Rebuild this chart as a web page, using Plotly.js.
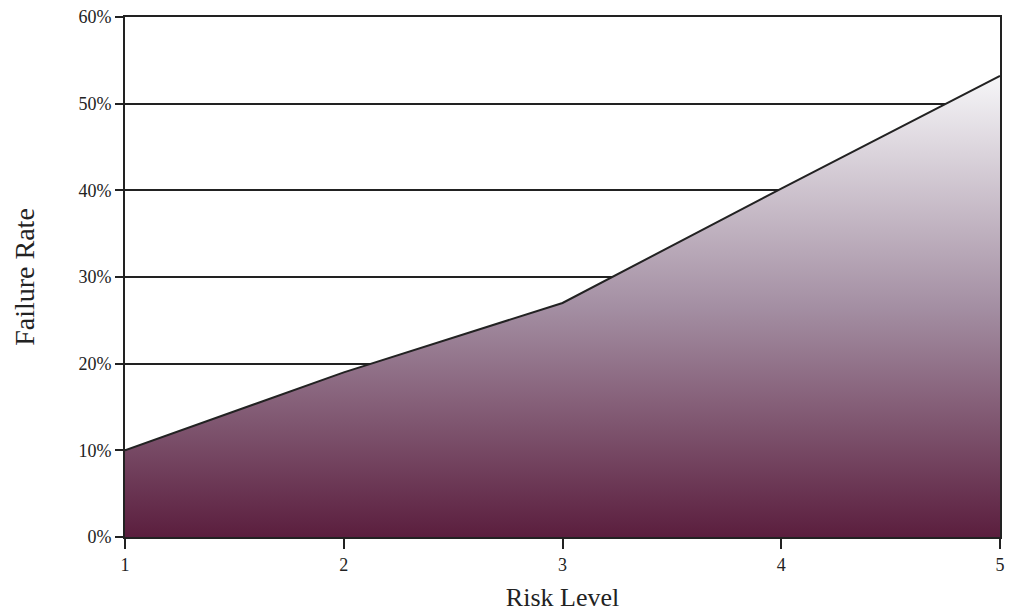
<!DOCTYPE html>
<html>
<head>
<meta charset="utf-8">
<script src="https://cdn.plot.ly/plotly-3.0.1.min.js"></script>
<style>html,body{margin:0;padding:0;background:#fff;}#chart{width:1013px;height:612px;}</style>
</head>
<body>
<div id="chart"></div>
<script>
const riskLevels = [1, 2, 3, 4, 5];
const failureRates = [10, 19, 27, 40.2, 53.2];
const yTickVals = [0, 10, 20, 30, 40, 50, 60];
const yTickText = ['0%', '10%', '20%', '30%', '40%', '50%', '60%'];
const xTickVals = [1, 2, 3, 4, 5];

const trace = {
  x: riskLevels,
  y: failureRates,
  type: 'scatter',
  mode: 'lines',
  fill: 'tozeroy',
  fillgradient: {
    type: 'vertical',
    start: 0,
    stop: 53.2,
    colorscale: [[0, '#5b1e3e'], [0.5, '#a48fa3'], [1, '#f6f6f8']]
  },
  line: {color: '#222', width: 2},
  hoverinfo: 'x+y'
};

const fontFam = '"Liberation Serif", "DejaVu Serif", serif';
const layout = {
  width: 1013,
  height: 612,
  margin: {l: 125, r: 13, t: 17, b: 75},
  paper_bgcolor: '#fff',
  plot_bgcolor: '#fff',
  showlegend: false,
  font: {family: fontFam, color: '#222', size: 18},
  xaxis: {
    range: [1, 5],
    tickvals: xTickVals,
    ticks: 'outside',
    ticklen: 10,
    tickwidth: 2,
    tickcolor: '#222',
    showline: true,
    linecolor: '#222',
    linewidth: 2,
    mirror: true,
    showgrid: false,
    zeroline: false,
    tickfont: {size: 18, family: fontFam, color: '#222'},
    title: {text: 'Risk Level', font: {size: 26, family: fontFam, color: '#222'}, standoff: 14}
  },
  yaxis: {
    range: [0, 60],
    tickvals: yTickVals,
    ticktext: yTickText,
    ticks: 'outside',
    ticklen: 8,
    tickwidth: 2,
    tickcolor: '#222',
    showline: true,
    linecolor: '#222',
    linewidth: 2,
    mirror: true,
    showgrid: true,
    gridcolor: '#222',
    gridwidth: 2,
    zeroline: false,
    tickfont: {size: 18, family: fontFam, color: '#222'},
    title: {text: 'Failure Rate', font: {size: 28, family: fontFam, color: '#222'}, standoff: 36}
  }
};

Plotly.newPlot('chart', [trace], layout, {displayModeBar: false, staticPlot: true});
</script>
</body>
</html>
